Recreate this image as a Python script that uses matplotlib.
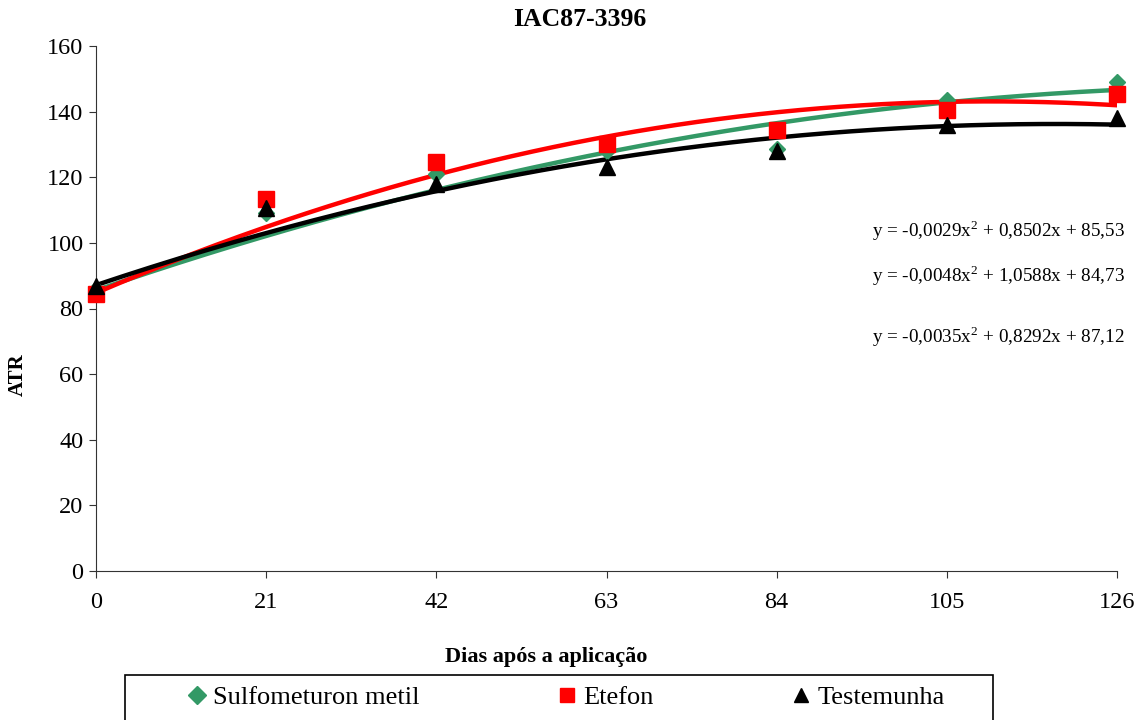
import numpy as np
import matplotlib
matplotlib.use("Agg")
import matplotlib.pyplot as plt
from matplotlib.lines import Line2D
from matplotlib.patches import Rectangle

days = [0, 21, 42, 63, 84, 105, 126]
sulfometuron = [86, 109, 121, 128, 128.5, 143.5, 149]
etefon = [84.5, 113.5, 124.5, 130, 134.5, 140.5, 145.5]
testemunha = [87, 110.5, 118, 123, 128, 136, 138]

coef_sulf = [-0.0029, 0.8502, 85.53]
coef_etef = [-0.0048, 1.0588, 84.73]
coef_test = [-0.0035, 0.8292, 87.12]

labels = ["Sulfometuron metil", "Etefon", "Testemunha"]
eq_texts = ["y = -0,0029x$^2$ + 0,8502x + 85,53",
            "y = -0,0048x$^2$ + 1,0588x + 84,73",
            "y = -0,0035x$^2$ + 0,8292x + 87,12"]

plt.rcParams['font.family'] = ['Liberation Serif', 'DejaVu Serif']
plt.rcParams['mathtext.fontset'] = 'custom'
plt.rcParams['mathtext.rm'] = 'Liberation Serif'

green = '#339966'
red = '#FF0000'
black = '#000000'

W, H = 1147, 720
fig = plt.figure(figsize=(W/100, H/100), dpi=100)
ax = fig.add_axes([96/W, 1-571/H, (1117-96)/W, (571-46)/H])

xs = np.linspace(0, 126, 300)
for coef, col in [(coef_sulf, green), (coef_etef, red), (coef_test, black)]:
    ax.plot(xs, np.polyval(coef, xs), color=col, lw=3.2, zorder=2)

ax.plot(days, sulfometuron, linestyle='none', marker='D', color=green, markersize=8, zorder=3, clip_on=False)
ax.plot(days, etefon, linestyle='none', marker='s', color=red, markersize=11, zorder=3, clip_on=False)
ax.plot(days, testemunha, linestyle='none', marker='^', color=black, markersize=11, zorder=4, clip_on=False)

ax.set_xlim(0, 126)
ax.set_ylim(0, 160)
ax.set_xticks(days)
ax.set_yticks(range(0, 161, 20))
ax.tick_params(labelsize=17.5, direction='out', length=5, color='#333333')
ax.tick_params(axis='x', pad=10)
ax.tick_params(axis='y', pad=4)
ax.spines['top'].set_visible(False)
ax.spines['right'].set_visible(False)
ax.spines['left'].set_color('#333333')
ax.spines['bottom'].set_color('#333333')

fig.text(580/W, 1-20/H, "IAC87-3396", fontsize=18.5, fontweight='bold', ha='center', va='center')
fig.text(18/W, 1-375/H, "ATR", rotation=90, fontsize=15, fontweight='bold', ha='center', va='center')
fig.text(546/W, 1-657/H, "Dias após a aplicação", fontsize=16, fontweight='bold', ha='center', va='center')

eq_y = [231, 276, 337]
for t, yy in zip(eq_texts, eq_y):
    fig.text(872/W, 1-yy/H, t, fontsize=13.8, ha='left', va='center')

# legend frame
fig.patches.append(Rectangle((125/W, -0.05), (993-125)/W, 1-675/H+0.05,
                             transform=fig.transFigure, fill=False,
                             edgecolor='black', linewidth=1.2))

handles = [Line2D([], [], linestyle='none', marker='D', color=green, markersize=9),
           Line2D([], [], linestyle='none', marker='s', color=red, markersize=10.5),
           Line2D([], [], linestyle='none', marker='^', color=black, markersize=10.5)]
leg = fig.legend(handles, labels, loc='center', ncol=3,
                 bbox_to_anchor=(567/W, 1-697/H),
                 fontsize=19, frameon=False,
                 handlelength=0.6, handletextpad=0.3, columnspacing=5.3,
                 borderpad=0, borderaxespad=0)

fig.savefig("out.png", dpi=100)
